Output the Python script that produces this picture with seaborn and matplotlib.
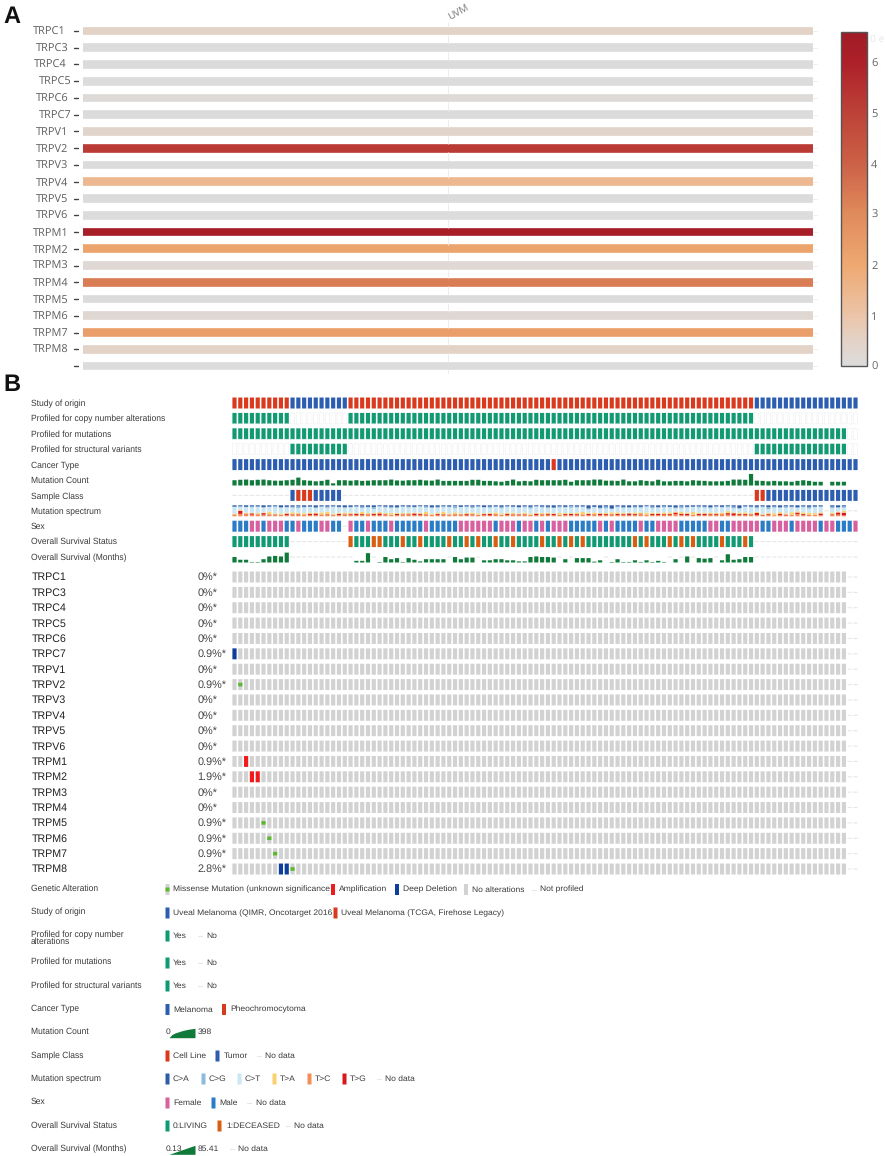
import numpy as np
import matplotlib
matplotlib.use("Agg")
import matplotlib.pyplot as plt
from matplotlib.colors import LinearSegmentedColormap
from matplotlib.patches import Rectangle
from matplotlib.transforms import ScaledTranslation
import seaborn as sns

# ---------- panel A data ----------
heat_genes = ["TRPC1","TRPC3","TRPC4","TRPC5","TRPC6","TRPC7","TRPV1","TRPV2","TRPV3","TRPV4","TRPV5",
              "TRPV6","TRPM1","TRPM2","TRPM3","TRPM4","TRPM5","TRPM6","TRPM7","TRPM8",""]
heat_values = [0.5,0.02,0.03,0.02,0.12,0.03,0.4,5.2,0.03,1.45,0.03,0.02,6.3,2.15,0.2,3.35,0.03,0.25,2.3,0.5,0.02]
heat_column = ["UVM"]
heat_label_shift = [-3,0,-2,3,0,3,0,0,0,0,0,0,0,0,0,0,0,0,0,0,0]

# ---------- panel B data ----------
track_names = ["Study of origin","Profiled for copy number alterations","Profiled for mutations",
               "Profiled for structural variants","Cancer Type","Mutation Count","Sample Class",
               "Mutation spectrum","Sex","Overall Survival Status","Overall Survival (Months)"]
study = "R"*10 + "B"*10 + "R"*70 + "B"*18
prof_cna = "Y"*10 + "N"*10 + "Y"*70 + "N"*18
prof_mut = "Y"*106 + "N"*2
prof_sv = "N"*10 + "Y"*10 + "N"*70 + "Y"*16 + "N"*2
cancer = "M"*55 + "P" + "M"*52
sample = "-"*10 + "TCCCTTTTT" + "-"*71 + "CC" + "T"*16
sex = ("MMMFFMFFFM" "MFMMMFFMM-" "FMMFMMMFMM" "MMMFMMMMMF" "FFFFFMFFFM"
       "FFMFMFFFMM" "MMMFMFMMMM" "FMMFFFFMMM" "MMFFMMFFFF" "FMMFFFMFFF" "FMFFMMMF")
deceased_cols = [20,24,25,29,32,37,40,42,45,48,53,56,58,60,69,71,75,77,79,84,88]
mutation_count = [
 .48,.52,.54,.48,.52,.54,.48,.44,.44,.48, .52,.72,.48,.44,.38,.42,.52,.20,.48,.48,
 .44,.48,.42,.44,.48,.48,.48,.54,.46,.44, .48,.48,.52,.46,.44,.54,.42,.42,.42,.42,
 .42,.52,.52,.42,.42,.38,.34,.42,.54,.38,.42,.38,.52,.48,.48,.48,.48,.52,.34,.48,
 .48,.48,.54,.54,.44,.44,.42,.54,.38,.38,.48,.42,.38,.52,.38,.38,.42,.42,.38,.48,
 .44,.42,.38,.38,.38,.42,.54,.54,.52,1.05,.44,.42,.38,.42,.38,.38,.34,.42,.48,.42,
 .34,.34,.0,.34,.34,.34,.0,.0]
survival_months = [
 .5,.25,.25,.05,.05,.3,.55,.6,.55,.9, np.nan,np.nan,np.nan,np.nan,np.nan,np.nan,np.nan,np.nan,np.nan,np.nan,
 np.nan,.15,.15,.85,np.nan,.05,.5,.3,.4,.05, .4,.25,.1,.3,.3,.3,.3,np.nan,.5,.3,
 .45,.45,np.nan,.2,.2,.3,.3,.2,.2,.1, .1,.5,.55,.5,.5,.45,np.nan,.3,np.nan,.4,
 .4,.4,.08,.2,np.nan,.05,.3,.05,.05,.2, .05,.2,.05,.15,.05,np.nan,.3,np.nan,.55,np.nan,
 .4,.35,.4,np.nan,.2,.75,.25,.3,.5,.5, np.nan,np.nan,np.nan,np.nan,np.nan,np.nan,np.nan,np.nan,np.nan,np.nan,
 np.nan,np.nan,np.nan,np.nan,np.nan,np.nan,np.nan,np.nan]
spectrum_labels = ["C>A","C>G","C>T","T>A","T>C","T>G"]
spectrum_tc = [18,22,18,15,12,15,12,12,15,10, 15,10,18,12,10,18,12,15,12,15, 15,10,12,15,12,10,12,15,12,15,
               18,10,12,15,15,10,12,18,15,20,  8,12,15,12, 8,12,15,12,15,10, 12,15,10,15,12,12,15,12,10,15,
               18,12,15,10,12,25,12,15,10,12, 22,15,12,10,15,12,20,12, 8,15, 12,10,15,12,25,15, 8,12,10,12,
               12, 8,15,10,12, 8,15,20,12,10, 15,12, 0,12,15, 8, 0, 0]
spectrum_tg = [ 0,28, 6,12, 5,14, 5, 5, 0,14,  4, 8, 0,10,16, 0, 6, 0,10, 4,  6,14, 8, 4,12,16, 6, 0,10, 4,
                6,16, 8, 4, 0,10, 6, 0, 4, 0, 12, 6, 0, 8,14, 6, 0,10, 4, 8,  6, 0,14, 4, 8,10, 0, 8,12, 6,
                0,10, 4,14, 8, 0,10, 6,16, 8,  4, 0,10,14, 6, 8,14,10,16, 0, 10,14, 6, 8, 0,14,20, 8,10, 6,
               18, 4, 6, 0,12, 8, 0,14, 8, 4,  0,14, 0, 6,20,25, 0, 0]
spectrum_ta = [ 6, 8,10, 6,12, 6,26,10,12, 8, 18,12,10,14, 8,18,24,10,10,16, 12, 6,20,10, 8,14,12,16, 8,12,
               10, 8,14,20,10,10,24, 8,18, 6, 10,16,12, 8,10,18,12,10,14, 8, 16,10, 8,12,14, 6,16,10, 8,14,
               22,10,16, 8,10,12,14,10, 8,16, 10,18,12, 8,14,16,10,18,10,24, 12, 8,14,12,10,18, 8,12,16,10,
               10, 8,12,18,14,10,22,12,16,20, 14,10, 0,16, 8,18, 0, 0]
spectrum_cg = [ 4, 8, 3,10, 5, 6, 3,12, 4, 6, 10,16, 6, 3, 8, 4,10, 8, 6, 4,  6, 3,14, 6,18, 4, 8,10, 6, 3,
                8, 6, 4,12, 5, 8,10, 6,20, 4,  6,12, 8, 4,10, 6,14, 8, 4, 6,  8,16, 5, 8,12, 4,10, 6,14, 8,
                5,10, 4, 8,16, 6, 8,12, 4,10,  8, 4,14, 6,10, 4, 8,16, 6, 4, 10, 8,12, 4, 6,10,16, 8, 4, 6,
               14, 6,20, 8, 4,12, 6,10, 8,16,  6, 4, 0,14, 8,12, 0, 0]
spectrum_ca = [12, 8,14,10,10,16,12, 6,18,14, 12,10,14,12,18,10,12, 8,14,18, 14,10,12,14,16, 8,12,14,18,10,
               12,14, 8,10,18,14, 8,12, 8,14, 10,12, 8,16,12,10,14, 8,12,16, 10,14, 8,12,14,20,10,14, 8,12,
               10,28,14,22,12,30,10,14,18,12, 14, 8,12,16,10,14,20,10,14,12, 10,12,16,10,14, 8,12,24,10,12,
               14,10,16,12,18,10,12,16,10,14, 12,10, 0,12,16,10, 0, 0]

oncoprint_genes = ["TRPC1","TRPC3","TRPC4","TRPC5","TRPC6","TRPC7","TRPV1","TRPV2","TRPV3","TRPV4","TRPV5",
                   "TRPV6","TRPM1","TRPM2","TRPM3","TRPM4","TRPM5","TRPM6","TRPM7","TRPM8"]
altered_pct = ["0%*","0%*","0%*","0%*","0%*","0.9%*","0%*","0.9%*","0%*","0%*","0%*","0%*",
               "0.9%*","1.9%*","0%*","0%*","0.9%*","0.9%*","0.9%*","2.8%*"]
deep_deletions = {"TRPC7":[0],"TRPM8":[8,9]}
amplifications = {"TRPM1":[2],"TRPM2":[3,4]}
missense = {"TRPV2":[1],"TRPM5":[5],"TRPM6":[6],"TRPM7":[7],"TRPM8":[10]}

N_COL = 108
cols = np.arange(N_COL)
assert all(len(s) == N_COL for s in [study,prof_cna,prof_mut,prof_sv,cancer,sample,sex,mutation_count,
           survival_months,spectrum_tc,spectrum_tg,spectrum_ta,spectrum_cg,spectrum_ca])

# ---------- colours ----------
C_RED, C_BLUE, C_GREEN = "#d93a1e", "#2c5db0", "#119a72"
C_MUT, C_PINK, C_MALE, C_ORANGE = "#0f7a3a", "#d8609f", "#2a7cc6", "#d85f12"
C_GREY, C_DASH = "#d2d2d2", "#e6e6e6"
C_AMP, C_DEL, C_MIS = "#ee1c1c", "#0c3f9c", "#5cb82e"
SPEC = {"C>A":"#2f5ca8","C>G":"#8dbbdc","C>T":"#cbe7f3","T>A":"#fbd070","T>C":"#f68c58","T>G":"#d7191c"}

sns.set_theme(style="white")
plt.rcParams["font.family"] = ["Liberation Sans", "DejaVu Sans"]
plt.rcParams["text.hinting"] = "no_hinting"
W, H = 886, 1156
fig = plt.figure(figsize=(W/100, H/100), dpi=100, facecolor="white")

def axpx(l, t, r, b, **kw):
    return fig.add_axes([l/W, 1-b/H, (r-l)/W, (b-t)/H], **kw)

# ---------- panel A ----------
stops = [(0,"#dcdcdc"),(0.5/6.6,"#e3d2c6"),(1/6.6,"#ecc4a8"),(2/6.6,"#eea870"),(3/6.6,"#e08b5c"),
         (4/6.6,"#cc6146"),(5/6.6,"#bd4238"),(6/6.6,"#ae2029"),(1,"#a01c26")]
cmap = LinearSegmentedColormap.from_list("greyred", stops)
ax_h = axpx(83, 22.6, 813, 374.4)
ax_c = axpx(841, 32, 867, 366)
sns.heatmap(np.array(heat_values).reshape(-1,1), cmap=cmap, vmin=0, vmax=6.6, ax=ax_h, cbar_ax=ax_c,
            xticklabels=heat_column, yticklabels=heat_genes, cbar_kws={"ticks":list(range(7))})
n = len(heat_genes)
edges = np.arange(n+1)
ax_h.hlines(edges, 0, 1, color="white", lw=6.0, zorder=2)
ax_h.vlines(np.full(n+1, 0.5), edges-0.25, edges+0.25, color="#ececec", lw=0.7, zorder=3)
tr = ax_h.get_yaxis_transform()
for i in range(n):
    ax_h.plot([-9/730,-5/730],[i+.5,i+.5], transform=tr, color="#444444", lw=1, clip_on=False, zorder=4)
    ax_h.plot([1,1+4/730],[i+.5,i+.5], transform=tr, color="#efefef", lw=.7, clip_on=False, zorder=1)
ax_h.set_xlim(0,1); ax_h.set_ylim(n,0)
ax_h.tick_params(axis="y", length=0, pad=10.5, left=False, labelsize=7.9, labelcolor="#5f5f5f", rotation=0)
for lab, dx in zip(ax_h.get_yticklabels(), heat_label_shift):
    lab.set_fontfamily("Open Sans")
    lab.set_transform(lab.get_transform() + ScaledTranslation(dx/100, -1/100, fig.dpi_scale_trans))
ax_h.xaxis.tick_top()
ax_h.tick_params(axis="x", length=0, pad=0, labelsize=7.2, labelcolor="#777777")
for lab in ax_h.get_xticklabels():
    lab.set_rotation(30); lab.set_ha("left"); lab.set_rotation_mode("anchor"); lab.set_fontfamily("Open Sans")
    lab.set_transform(lab.get_transform() + ScaledTranslation(3/100, 1/100, fig.dpi_scale_trans))
cb = ax_h.collections[0].colorbar
cb.outline.set_edgecolor("#555555"); cb.outline.set_linewidth(1.0); cb.outline.set_visible(True)
ax_c.tick_params(axis="y", length=0, pad=3, labelsize=8.0, labelcolor="#666666")
for lab in ax_c.get_yticklabels():
    lab.set_fontfamily("Open Sans")

# ---------- panel B helpers ----------
BAR_H = 0.714

def bars(ax, heights, color, base, **kw):
    sns.barplot(x=cols, y=np.nan_to_num(np.asarray(heights, float)), color=color, bottom=base, native_scale=True,
                width=kw.pop("width", 0.72), errorbar=None, saturation=1, linewidth=kw.pop("linewidth", 0),
                ax=ax, **kw)

def state_row(ax, text, y, palette, dash=("-",), empty=("N",)):
    base = y - BAR_H/2
    arr = np.array(list(text))
    for key, col in palette.items():
        bars(ax, (arr == key)*BAR_H, col, base)
    if any(k in arr for k in dash):
        bars(ax, np.isin(arr, dash)*0.07, C_DASH, y-0.035)
    if any(k in arr for k in empty):
        bars(ax, np.isin(arr, empty)*BAR_H, "white", base, edgecolor="#f1f1f1", linewidth=0.5)

def finish(ax, nrows):
    ax.set_xlim(-.5, N_COL-.5); ax.set_ylim(-.5, nrows-.5)
    ax.set_xticks([]); ax.set_yticks([]); ax.set_xlabel(""); ax.set_ylabel("")
    ax.axis("off")
    for p in ax.patches:
        p.set_snap(False)

# ---------- clinical tracks ----------
ax_t = axpx(231.6, 395.3, 858.4, 564.7)
nt = len(track_names)
Y = {name: nt-1-i for i, name in enumerate(track_names)}
state_row(ax_t, study, Y["Study of origin"], {"R":C_RED,"B":C_BLUE})
state_row(ax_t, prof_cna, Y["Profiled for copy number alterations"], {"Y":C_GREEN})
state_row(ax_t, prof_mut, Y["Profiled for mutations"], {"Y":C_GREEN})
state_row(ax_t, prof_sv, Y["Profiled for structural variants"], {"Y":C_GREEN})
state_row(ax_t, cancer, Y["Cancer Type"], {"M":C_BLUE,"P":C_RED})

y = Y["Mutation Count"]
bars(ax_t, np.array(mutation_count)*BAR_H, C_MUT, y-BAR_H/2)
state_row(ax_t, sample, Y["Sample Class"], {"C":C_RED,"T":C_BLUE})

# spectrum: real stacked segments, bottom to top
y = Y["Mutation spectrum"]
has_data = np.array(mutation_count) > 0
tc, tg, ta = [np.array(v)/100 for v in (spectrum_tc, spectrum_tg, spectrum_ta)]
cg, ca = [np.array(v)/100 for v in (spectrum_cg, spectrum_ca)]
ct = 1 - tc - tg - ta - cg - ca
bottom = np.zeros(N_COL)
for name, frac in [("T>C",tc),("T>G",tg),("T>A",ta),("C>T",ct),("C>G",cg),("C>A",ca)]:
    bars(ax_t, frac*has_data*BAR_H, SPEC[name], y-BAR_H/2+bottom*BAR_H)
    bottom = bottom + frac
bars(ax_t, (~has_data)*0.07, C_DASH, y-0.035)

state_row(ax_t, sex, Y["Sex"], {"F":C_PINK,"M":C_MALE})
status = np.array(list("G"*10 + "-"*10 + "G"*70 + "-"*18))
status[deceased_cols] = "D"
state_row(ax_t, "".join(status), Y["Overall Survival Status"], {"G":C_GREEN,"D":C_ORANGE})
y = Y["Overall Survival (Months)"]
sm = np.array(survival_months)
bars(ax_t, sm*BAR_H, C_MUT, y-BAR_H/2)
bars(ax_t, np.isnan(sm)*0.07, C_DASH, y-0.035)
finish(ax_t, nt)

# ---------- gene rows ----------
ax_g = axpx(231.6, 569.3, 858.4, 876.7)
ng = len(oncoprint_genes)
for i, g in enumerate(oncoprint_genes):
    y = ng-1-i
    base = y-BAR_H/2
    grey = np.array([c < 106 for c in cols], float)
    for c in deep_deletions.get(g,[])+amplifications.get(g,[]):
        grey[c] = 0
    bars(ax_g, grey*BAR_H, C_GREY, base)
    bars(ax_g, np.array([c >= 106 for c in cols])*0.07, C_DASH, y-0.035)
    if g in deep_deletions:
        bars(ax_g, np.isin(cols, deep_deletions[g])*BAR_H, C_DEL, base)
    if g in amplifications:
        bars(ax_g, np.isin(cols, amplifications[g])*BAR_H, C_AMP, base)
    if g in missense:
        bars(ax_g, np.isin(cols, missense[g])*BAR_H*0.33, C_MIS, y-BAR_H*0.165)
finish(ax_g, ng)

# ---------- overlay: text, legend ----------
ov = fig.add_axes([0,0,1,1], zorder=10)
ov.set_xlim(0,W); ov.set_ylim(H,0); ov.axis("off"); ov.patch.set_alpha(0)
ov.text(3, 17, "A", fontsize=17, fontweight="bold", va="center", color="#111111")
ov.text(3, 385, "B", fontsize=17, fontweight="bold", va="center", color="#111111")
ov.text(870, 39, "0 e", fontsize=7.5, color="#e6e6e6", va="center", family="Open Sans")

TXT = "#3a3a3a"
track_y = [403,418.5,434,449.5,465,480.5,496,511,526.5,541.5,557]
for name, ty in zip(track_names, track_y):
    ov.text(31, ty+.5, name, fontsize=6.15, va="center", color=TXT)
for i, (g, p) in enumerate(zip(oncoprint_genes, altered_pct)):
    gy = 577.5 + i*15.37
    ov.text(32, gy, g, fontsize=7.7, va="center", color="#222222")
    ov.text(197.5, gy, p, fontsize=7.8, va="center", color="#444444")

def swatch(x, y, color, h=11):
    ov.add_patch(Rectangle((x-2, y-h/2), 4, h, fc=color, ec="none", snap=False))
def dash(x, y):
    ov.plot([x-2, x+2], [y, y], color=C_DASH, lw=.8)
def label(x, y, s):
    ov.text(x, y, s, fontsize=6.12, va="center", color=TXT)

titles = [(888.5,"Genetic Alteration"),(911.5,"Study of origin"),(934.5,"Profiled for copy number"),(941.5,"alterations"),
          (962,"Profiled for mutations"),(985.5,"Profiled for structural variants"),(1008.5,"Cancer Type"),
          (1032,"Mutation Count"),(1055.5,"Sample Class"),(1078.5,"Mutation spectrum"),(1102,"Sex"),
          (1125.5,"Overall Survival Status"),(1148.5,"Overall Survival (Months)")]
for ty, s in titles:
    ov.text(31, ty, s, fontsize=6.15, va="center", color=TXT)

yy = 889.5
swatch(167.5, yy, C_GREY); swatch(167.5, yy, C_MIS, 4); label(173, yy, "Missense Mutation (unknown significance")
swatch(333, yy, C_AMP); label(339, yy, "Amplification")
swatch(397, yy, C_DEL); label(403, yy, "Deep Deletion")
swatch(466, yy, C_GREY); label(472, yy, "No alterations")
dash(534, yy); label(540, yy, "Not profiled")
yy = 913
swatch(167.5, yy, C_BLUE); label(173, yy, "Uveal Melanoma (QIMR, Oncotarget 2016")
swatch(335.5, yy, C_RED); label(341, yy, "Uveal Melanoma (TCGA, Firehose Legacy)")
for yy in (936, 963, 986):
    swatch(167.5, yy, C_GREEN); label(173, yy, "Yes"); dash(200.5, yy); label(206, yy, "No")
yy = 1009.5
swatch(167.5, yy, C_BLUE); label(173, yy, "Melanoma")
swatch(224, yy, C_RED); label(230, yy, "Pheochromocytoma")
yy = 1032
label(166, yy, "0"); label(198, yy, "398")
ramp_x = [169,172,175,178,181,184,187,190,195]
ramp_top = [1037.7,1034.5,1033,1032,1031,1030.2,1029.5,1029,1028.3]
ov.fill_between(ramp_x, ramp_top, 1037.7, color=C_MUT, lw=0)
yy = 1056
swatch(167.5, yy, C_RED); label(173, yy, "Cell Line")
swatch(217.5, yy, C_BLUE); label(223.5, yy, "Tumor")
dash(259, yy); label(265.5, yy, "No data")
yy = 1079
for sx, tx, key in [(167.5,173,"C>A"),(203.5,209,"C>G"),(239.5,245,"C>T"),(274.5,280,"T>A"),(309.5,315,"T>C"),(344.5,350,"T>G")]:
    swatch(sx, yy, SPEC[key]); label(tx, yy, key)
dash(379, yy); label(385, yy, "No data")
yy = 1103
swatch(167.5, yy, C_PINK); label(173, yy, "Female")
swatch(213.5, yy, C_MALE); label(219, yy, "Male")
dash(249.5, yy); label(256, yy, "No data")
yy = 1126
swatch(167.5, yy, C_GREEN); label(173, yy, "0:LIVING")
swatch(219.5, yy, C_ORANGE); label(226, yy, "1:DECEASED")
dash(288, yy); label(294, yy, "No data")
yy = 1149
label(166, yy-.5, "0.13"); label(198, yy-.5, "85.41")
ov.fill_between([169,195], [1154.3,1145.3], 1154.3, color=C_MUT, lw=0)
dash(232, yy); label(238, yy, "No data")

fig.savefig("out.png", dpi=100, facecolor="white")
